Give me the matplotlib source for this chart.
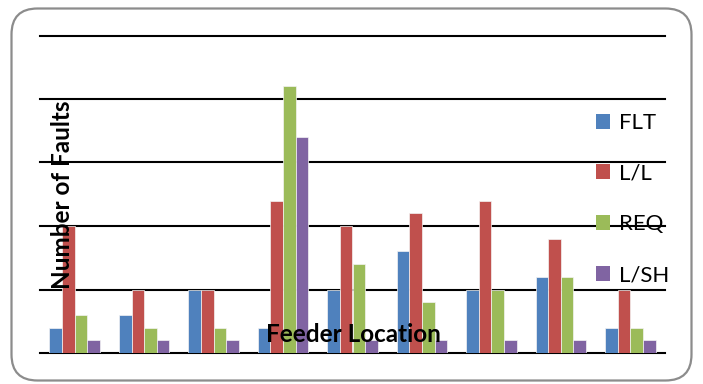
import matplotlib.pyplot as plt
import numpy as np
from matplotlib.patches import FancyBboxPatch, Patch

locations = ["1", "2", "3", "4", "5", "6", "7", "8", "9"]
series_names = ["FLT", "L/L", "REQ", "L/SH"]
flt = [2, 3, 5, 2, 5, 8, 5, 6, 2]
ll = [10, 5, 5, 12, 10, 11, 12, 9, 5]
req = [3, 2, 2, 21, 7, 4, 5, 6, 2]
lsh = [1, 1, 1, 17, 1, 1, 1, 1, 1]
colors = ["#4F81BD", "#C0504D", "#9BBB59", "#8064A2"]

W, H = 703, 384
fig = plt.figure(figsize=(W / 100, H / 100), dpi=100)
fig.patch.set_facecolor("white")

# rounded frame around the whole chart (inch units so corners stay circular)
frame = FancyBboxPatch((0.115, 0.035), 6.80, 3.72,
                       boxstyle="round,pad=0,rounding_size=0.26",
                       transform=fig.dpi_scale_trans, facecolor="none",
                       edgecolor="#8c8c8c", linewidth=1.6, zorder=0)
fig.patches.append(frame)

ax = fig.add_axes([40 / W, 1 - 353 / H, (665 - 40) / W, (353 - 35.5) / H])
ax.set_facecolor("none")

x = np.arange(len(locations))
bw = 0.182
data = [flt, ll, req, lsh]
for i, (vals, c, name) in enumerate(zip(data, colors, series_names)):
    ax.bar(x + (i - 1.5) * bw, vals, width=bw, color=c, edgecolor="#f4f4f4",
           linewidth=0.5, label=name, zorder=3)

ax.set_xlim(-0.5, len(locations) - 0.5)
ax.set_ylim(0, 25)
ax.set_yticks([0, 5, 10, 15, 20, 25])
ax.yaxis.grid(True, color="black", linewidth=1.5, zorder=1)
for gl in ax.get_ygridlines():
    gl.set_clip_on(False)
ax.set_axisbelow(True)
ax.tick_params(left=False, bottom=False, labelleft=False, labelbottom=False)
for s in ax.spines.values():
    s.set_visible(False)

font = "Lato"
fig.text(62 / W, 1 - 195 / H, "Number of Faults", rotation=90, ha="center",
         va="center", fontsize=17.5, fontweight="bold", family=font, zorder=5)
fig.text(353 / W, 1 - 335 / H, "Feeder Location", ha="center", va="center",
         fontsize=17.5, fontweight="bold", family=font, zorder=5)

handles = [Patch(facecolor=c, edgecolor="none") for c in colors]
leg = fig.legend(handles, series_names, loc="upper left",
                 bbox_to_anchor=(596 / W, 1 - 113 / H), frameon=False,
                 borderpad=0, borderaxespad=0, handlelength=0.65,
                 handleheight=0.65, handletextpad=0.4, labelspacing=1.38,
                 prop={"family": font, "size": 16})

fig.savefig("out.png", dpi=100, facecolor="white")
